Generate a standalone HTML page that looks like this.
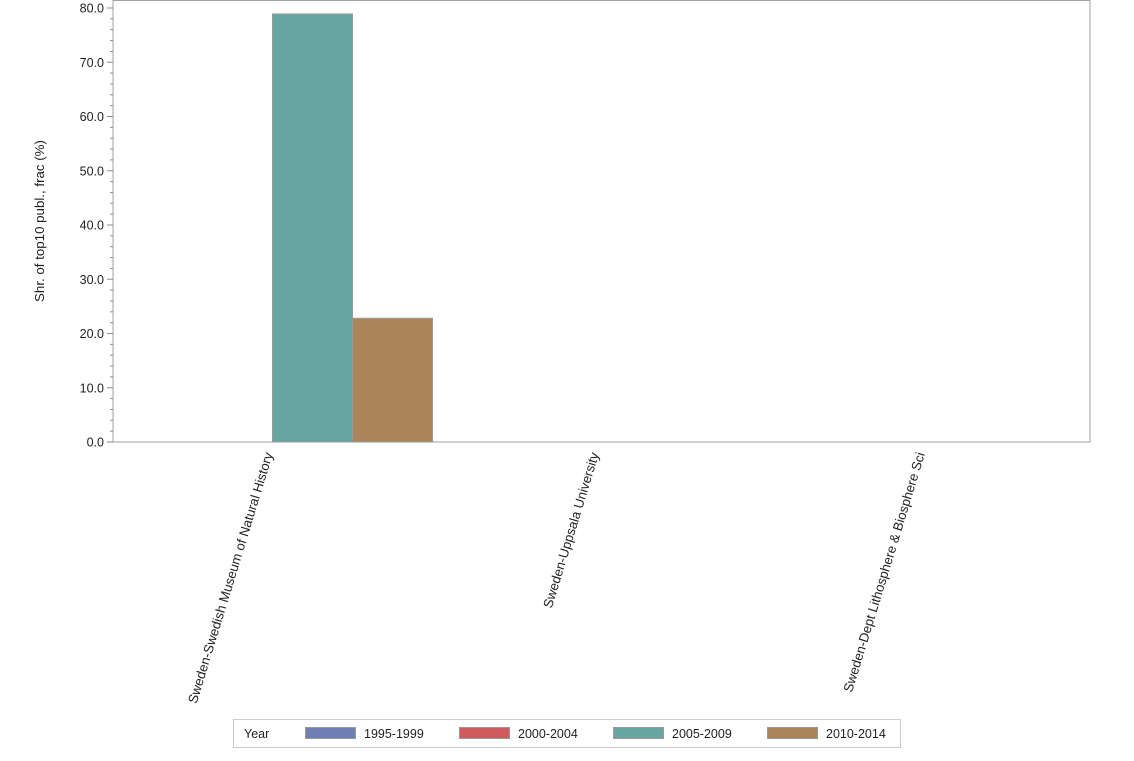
<!DOCTYPE html>
<html><head><meta charset="utf-8"><style>
body{margin:0;background:#fff;font-family:"Liberation Sans",sans-serif;}
</style></head><body>
<svg width="1134" height="756" xmlns="http://www.w3.org/2000/svg" font-family="Liberation Sans, sans-serif">
</svg>
<script>
const categories=["Sweden-Swedish Museum of Natural History","Sweden-Uppsala University","Sweden-Dept Lithosphere & Biosphere Sci"];
const seriesNames=["1995-1999","2000-2004","2005-2009","2010-2014"];
const v1995=[0,0,0];
const v2000=[0,0,0];
const v2005=[78.9,0,0];
const v2010=[22.8,0,0];
const yTicks=[0,10,20,30,40,50,60,70,80];
const colors=["#6f7eb3","#d05b5b","#66a5a0","#a98559"];
const series=[v1995,v2000,v2005,v2010];
const NS="http://www.w3.org/2000/svg";
const svg=document.querySelector('svg');
const L=113,R=1090,T=0,B=442;
const y=v=>B-v*(434/80);
const cx=i=>272+i*326;
const bw=80;
function mk(t,a,p){const e=document.createElementNS(NS,t);for(const k in a)e.setAttribute(k,a[k]);(p||svg).appendChild(e);return e;}
let e=mk('rect',{x:L,y:T+0.5,width:R-L,height:B-T-0.5,fill:'none',stroke:'#a0a0a0'});


for(let v=0;v<=80;v+=2){
 const major=v%10===0;
 e=mk('line',{x1:major?107:110,x2:L,y1:y(v),y2:y(v),stroke:'#8a8a8a'});
 
 
}
yTicks.forEach(v=>{
 e=mk('text',{x:104,y:y(v)+4.5,'text-anchor':'end','font-size':12.5,fill:'#222'});e.textContent=v.toFixed(1);
 
 
});
e=mk('text',{transform:'translate(44,221) rotate(-90)','text-anchor':'middle','font-size':13.3,fill:'#222'});
e.textContent='Shr. of top10 publ., frac (%)';


categories.forEach((c,i)=>{
 series.forEach((s,j)=>{
  const v=s[i]; if(!v) return;
  e=mk('rect',{x:cx(i)+(j-2)*bw+0.5,y:y(v),width:bw,height:B-y(v),fill:colors[j],stroke:'#999'});
  
  
 });
 e=mk('text',{transform:`translate(${cx(i)+1},454) rotate(-73)`,'text-anchor':'end','font-size':13.2,fill:'#222'});
 e.textContent=c;
 
 
});
const lg=mk('g',{});


mk('rect',{x:233.5,y:719.5,width:667,height:28,fill:'#fff',stroke:'#ccc'},lg);
e=mk('text',{x:244,y:738,'font-size':12.5,fill:'#222'},lg);e.textContent='Year';
seriesNames.forEach((n,j)=>{
 const x=305+j*154;
 e=mk('rect',{x:x+0.5,y:727.5,width:50,height:11,fill:colors[j],stroke:'#999'},lg);
 
 
 e=mk('text',{x:x+59,y:738,'font-size':12.5,fill:'#222'},lg);e.textContent=n;
 
 
});
</script>
</body></html>
